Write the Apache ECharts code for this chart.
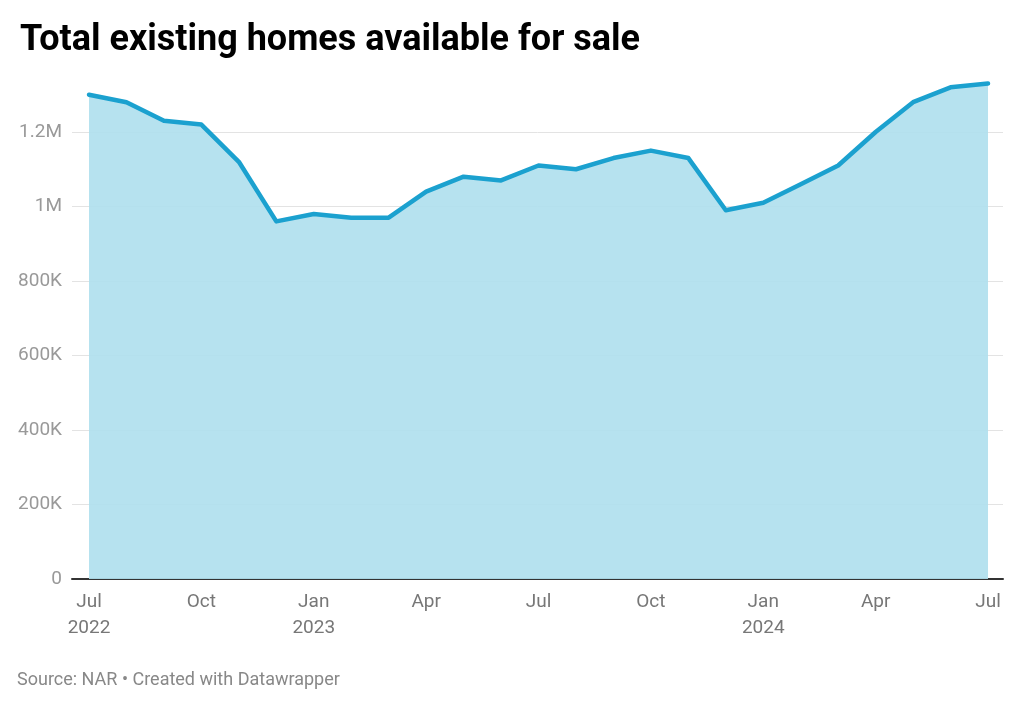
<!DOCTYPE html>
<html>
<head>
<meta charset="utf-8">
<script src="https://cdn.jsdelivr.net/npm/echarts@6/dist/echarts.min.js"></script>
<style>
html,body{margin:0;padding:0;background:#fff;}
#chart{width:1024px;height:709px;}
</style>
</head>
<body>
<div id="chart"></div>
<script>
// Months from Jul 2022 to Jul 2024
const months = ['Jul 2022','Aug 2022','Sep 2022','Oct 2022','Nov 2022','Dec 2022',
  'Jan 2023','Feb 2023','Mar 2023','Apr 2023','May 2023','Jun 2023','Jul 2023','Aug 2023','Sep 2023','Oct 2023','Nov 2023','Dec 2023',
  'Jan 2024','Feb 2024','Mar 2024','Apr 2024','May 2024','Jun 2024','Jul 2024'];
const inventory = [1300000,1280000,1230000,1220000,1120000,960000,
  980000,970000,970000,1040000,1080000,1070000,1110000,1100000,1130000,1150000,1130000,990000,
  1010000,1060000,1110000,1200000,1280000,1320000,1330000];
const tickIndexes = [0,3,6,9,12,15,18,21,24];
const tickLabels = ['Jul\n2022','Oct','Jan\n2023','Apr','Jul','Oct','Jan\n2024','Apr','Jul'];
const yTickValues = [0,200000,400000,600000,800000,1000000,1200000];
const yTickLabels = ['0','200K','400K','600K','800K','1M','1.2M'];

const chart = echarts.init(document.getElementById('chart'), null, {renderer:'canvas'});
const font = 'Roboto, "Noto Sans", sans-serif';
const option = {
  animation:false,
  backgroundColor:'#ffffff',
  title:{
    text:'Total existing homes available for sale',
    left:15, top:18,
    textStyle:{fontFamily:font, fontWeight:'bold', fontSize:36, color:'#000'}
  },
  graphic:[{
    type:'text', left:17, top:671,
    style:{text:'Source: NAR • Created with Datawrapper', font:'18px Roboto, sans-serif', fill:'#888'}
  }],
  grid:{left:72, right:21, top:132, bottom:130, containLabel:false},
  xAxis:{
    type:'value', min:-0.454, max:24.4,
    axisLine:{show:true, onZero:false, lineStyle:{color:'#333', width:2}},
    axisTick:{show:false},
    splitLine:{show:false},
    axisLabel:{
      customValues:tickIndexes,
      margin:10, fontSize:19, lineHeight:26, color:'#777', fontFamily:font,
      formatter:function(v){ const i = tickIndexes.indexOf(Math.round(v)); return i>=0 ? tickLabels[i] : ''; }
    }
  },
  yAxis:{
    type:'value', min:0, max:1200000, interval:200000,
    axisLine:{show:false}, axisTick:{show:false},
    splitLine:{lineStyle:{color:'#e3e3e3', width:1}},
    axisLabel:{
      margin:10, fontSize:19, color:'#999', fontFamily:font,
      formatter:function(v){ const i = yTickValues.indexOf(v); return i>=0 ? yTickLabels[i] : ''; }
    }
  },
  series:[{
    type:'line',
    data: inventory.map((v,i)=>[i,v]),
    clip:false,
    symbol:'none',
    lineStyle:{color:'#1ba1cf', width:4.5, join:'round', cap:'round'},
    areaStyle:{color:'rgba(176,223,238,0.92)', opacity:1, origin:'start'},
    z:1
  }]
};
chart.setOption(option);
</script>
</body>
</html>
